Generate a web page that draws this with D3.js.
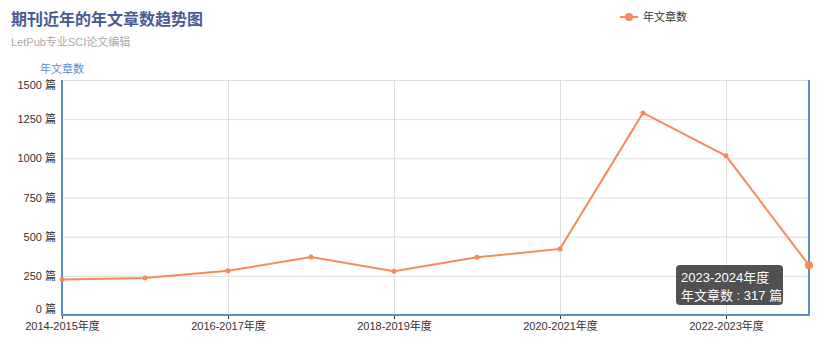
<!DOCTYPE html>
<html>
<head>
<meta charset="utf-8">
<script src="https://cdn.jsdelivr.net/npm/d3@7"></script>
<style>
    body { margin: 0; background: #fff; }
    text { font-family: "Liberation Sans", Arial, "Noto Sans CJK SC", sans-serif; }
</style>
</head>
<body>
<svg id="chart" width="836" height="364"></svg>
<script>
// categories (x axis) and the yearly article counts
var years = [
    "2014-2015年度", "2015-2016年度", "2016-2017年度", "2017-2018年度",
    "2018-2019年度", "2019-2020年度", "2020-2021年度", "2021-2022年度",
    "2022-2023年度", "2023-2024年度"
];
var counts = [226, 236, 282, 370, 280, 368, 422, 1290, 1016, 317];
var yTicks = [0, 250, 500, 750, 1000, 1250, 1500];

var svg = d3.select("#chart");
// plot box (note: "top" is reserved on window, so use plot* names)
var plotLeft = 62, plotRight = 809, plotTop = 80, plotBottom = 315;
var lineColor = "#f68b5a";
var axisColor = "#5b8ec6";

var x = d3.scalePoint().domain(years).range([plotLeft, plotRight]);
var y = d3.scaleLinear().domain([0, 1500]).range([plotBottom, plotTop]);

// title
svg.append("text").attr("x", 11).attr("y", 25)
    .attr("font-size", 16).attr("font-weight", "bold").attr("fill", "#4a5a96")
    .text("期刊近年的年文章数趋势图");
svg.append("text").attr("x", 11).attr("y", 46)
    .attr("font-size", 11).attr("fill", "#aaa")
    .text("LetPub专业SCI论文编辑");

// legend
var lg = svg.append("g").attr("transform", "translate(620,17)");
lg.append("line").attr("x1", 0).attr("x2", 18).attr("y1", 0).attr("y2", 0)
    .attr("stroke", lineColor).attr("stroke-width", 2);
lg.append("circle").attr("cx", 9).attr("cy", 0).attr("r", 4).attr("fill", lineColor);
lg.append("text").attr("x", 23).attr("y", 4).attr("font-size", 11).attr("fill", "#333")
    .text("年文章数");

// horizontal grid
svg.append("g").selectAll("line").data(yTicks).enter().append("line")
    .attr("x1", plotLeft).attr("x2", plotRight)
    .attr("y1", function(d) { return y(d) + 0.5; })
    .attr("y2", function(d) { return y(d) + 0.5; })
    .attr("stroke", "#ddd");

// vertical grid every other category
var shown = years.filter(function(d, i) { return i % 2 === 0; });
svg.append("g").selectAll("line").data(shown.slice(1)).enter().append("line")
    .attr("x1", function(d) { return x(d) + 0.5; })
    .attr("x2", function(d) { return x(d) + 0.5; })
    .attr("y1", plotTop).attr("y2", plotBottom)
    .attr("stroke", "#ddd");

// y axis
var yAxis = svg.append("g").attr("transform", "translate(" + plotLeft + ",0)")
    .call(d3.axisLeft(y).tickValues(yTicks).tickSize(0).tickPadding(6)
        .tickFormat(function(d) { return d + " 篇"; }));
yAxis.select(".domain").remove();
yAxis.selectAll("text").attr("font-size", 11).attr("fill", "#333")
    .attr("dy", function(d) { return d === 1500 ? "0.8em" : d === 0 ? "-0.25em" : "0.32em"; });
svg.append("text").attr("x", 40).attr("y", 73).attr("font-size", 11)
    .attr("fill", axisColor).text("年文章数");

// x axis
var xAxis = svg.append("g").attr("transform", "translate(0," + plotBottom + ")")
    .call(d3.axisBottom(x).tickValues(shown).tickSize(4).tickPadding(3));
xAxis.select(".domain").remove();
xAxis.selectAll("line").attr("stroke", "#333");
xAxis.selectAll("text").attr("font-size", 11).attr("fill", "#333");

// axis lines: left, bottom, right
svg.append("line").attr("x1", plotLeft).attr("x2", plotLeft)
    .attr("y1", plotTop).attr("y2", plotBottom + 1)
    .attr("stroke", axisColor).attr("stroke-width", 2);
svg.append("line").attr("x1", plotLeft).attr("x2", plotRight + 1)
    .attr("y1", plotBottom).attr("y2", plotBottom)
    .attr("stroke", axisColor).attr("stroke-width", 2);
svg.append("line").attr("x1", plotRight).attr("x2", plotRight)
    .attr("y1", plotTop).attr("y2", plotBottom + 1)
    .attr("stroke", axisColor).attr("stroke-width", 2);

// series
var line = d3.line()
    .x(function(d, i) { return x(years[i]); })
    .y(function(d) { return y(d); });
svg.append("path").datum(counts).attr("d", line)
    .attr("fill", "none").attr("stroke", lineColor).attr("stroke-width", 2);
svg.append("g").selectAll("circle").data(counts).enter().append("circle")
    .attr("cx", function(d, i) { return x(years[i]); })
    .attr("cy", function(d) { return y(d); })
    .attr("r", function(d, i) { return i === counts.length - 1 ? 4 : 2.5; })
    .attr("fill", lineColor);

// tooltip on the last point
var last = counts.length - 1;
var tip = svg.append("g").attr("transform", "translate(676,265)");
tip.append("rect").attr("width", 107).attr("height", 40).attr("rx", 4)
    .attr("fill", "rgba(50,50,50,0.85)");
tip.append("text").attr("x", 5).attr("y", 17).attr("font-size", 13).attr("fill", "#fff")
    .text(years[last]);
tip.append("text").attr("x", 5).attr("y", 35).attr("font-size", 13).attr("fill", "#fff")
    .text("年文章数 : " + counts[last] + " 篇");
</script>
</body>
</html>
